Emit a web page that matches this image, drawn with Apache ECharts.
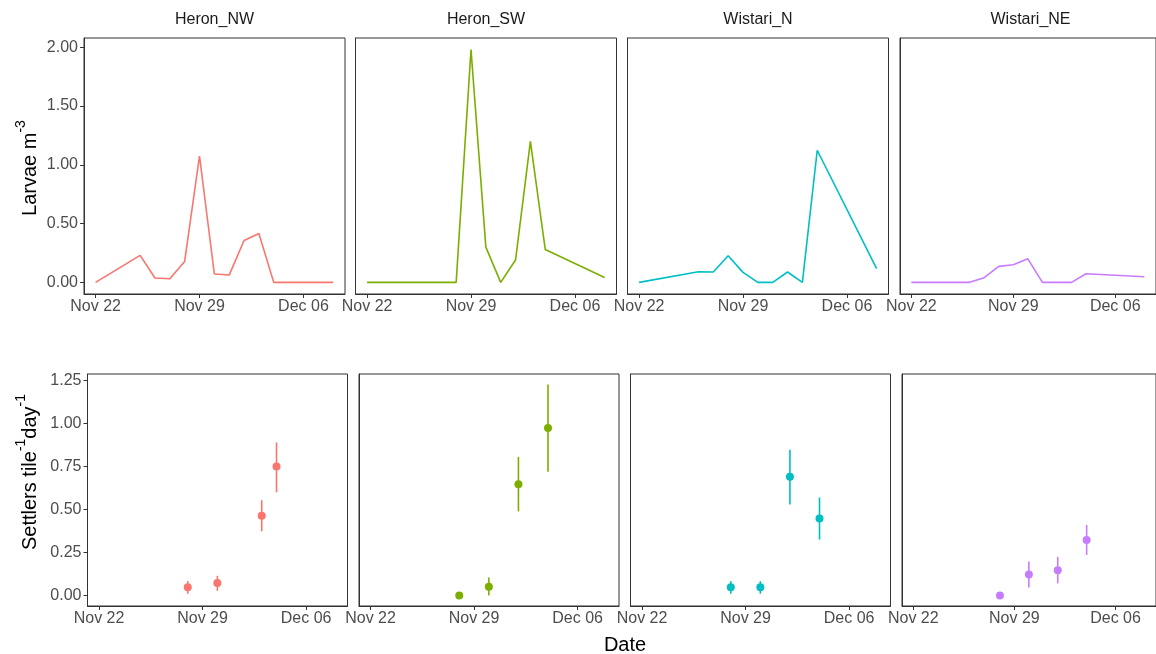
<!DOCTYPE html>
<html>
<head>
<meta charset="utf-8">
<script src="https://cdn.jsdelivr.net/npm/echarts@6/dist/echarts.min.js"></script>
<style>
html,body{margin:0;padding:0;background:#fff;}
#chart{width:1156px;height:654px;}
</style>
</head>
<body>
<div id="chart"></div>
<script>
// ---------- data ----------
const sites = ['Heron_NW', 'Heron_SW', 'Wistari_N', 'Wistari_NE'];
const siteColors = ['#F8766D', '#7CAE00', '#00BFC4', '#C77CFF'];

const xTickDates = ['11-22', '11-29', '12-06'];
const xTickLabels = ['Nov 22', 'Nov 29', 'Dec 06'];
const larvaeTicks = [0, 0.5, 1.0, 1.5, 2.0];
const settlerTicks = [0, 0.25, 0.5, 0.75, 1.0, 1.25];

// Larvae m^-3 (top row)
const heronNW_larvaeDates = ['11-22','11-25','11-26','11-27','11-28','11-29','11-30','12-01','12-02','12-03','12-04','12-08'];
const heronNW_larvae      = [0, 0.23, 0.037, 0.031, 0.178, 1.075, 0.071, 0.062, 0.356, 0.415, 0, 0];
const heronSW_larvaeDates = ['11-22','11-28','11-29','11-30','12-01','12-02','12-03','12-04','12-08'];
const heronSW_larvae      = [0, 0, 1.98, 0.30, 0, 0.19, 1.20, 0.28, 0.042];
const wistariN_larvaeDates = ['11-22','11-26','11-27','11-28','11-29','11-30','12-01','12-02','12-03','12-04','12-08'];
const wistariN_larvae      = [0, 0.09, 0.088, 0.226, 0.085, 0, 0, 0.088, 0, 1.124, 0.116];
const wistariNE_larvaeDates = ['11-22','11-26','11-27','11-28','11-29','11-30','12-01','12-02','12-03','12-04','12-08'];
const wistariNE_larvae      = [0, 0, 0.04, 0.136, 0.15, 0.20, 0, 0, 0, 0.073, 0.048];

// Settlers tile^-1 day^-1 (bottom row): mean, lower, upper
const heronNW_settleDates = ['11-28','11-30','12-03','12-04'];
const heronNW_settle      = [0.048, 0.073, 0.464, 0.75];
const heronNW_settleLo    = [0.01, 0.027, 0.373, 0.60];
const heronNW_settleHi    = [0.083, 0.114, 0.554, 0.89];
const heronSW_settleDates = ['11-28','11-30','12-02','12-04'];
const heronSW_settle      = [0, 0.05, 0.647, 0.974];
const heronSW_settleLo    = [0, 0, 0.489, 0.719];
const heronSW_settleHi    = [0, 0.104, 0.806, 1.227];
const wistariN_settleDates = ['11-28','11-30','12-02','12-04'];
const wistariN_settle      = [0.048, 0.048, 0.69, 0.448];
const wistariN_settleLo    = [0.01, 0.01, 0.529, 0.325];
const wistariN_settleHi    = [0.083, 0.083, 0.848, 0.57];
const wistariNE_settleDates = ['11-28','11-30','12-02','12-04'];
const wistariNE_settle      = [0, 0.122, 0.147, 0.323];
const wistariNE_settleLo    = [0, 0.046, 0.07, 0.236];
const wistariNE_settleHi    = [0, 0.197, 0.224, 0.41];

// ---------- helpers ----------
function dayIndex(md) {
  const p = md.split('-').map(Number);
  return (Date.UTC(2019, p[0] - 1, p[1]) - Date.UTC(2019, 10, 22)) / 86400000;
}
const xTickDays = xTickDates.map(dayIndex);
function xLabel(v) {
  const i = xTickDays.indexOf(Math.round(v));
  return i >= 0 ? xTickLabels[i] : '';
}

const larvaeSets = [
  [heronNW_larvaeDates, heronNW_larvae],
  [heronSW_larvaeDates, heronSW_larvae],
  [wistariN_larvaeDates, wistariN_larvae],
  [wistariNE_larvaeDates, wistariNE_larvae]
];
const settleSets = [
  [heronNW_settleDates, heronNW_settle, heronNW_settleLo, heronNW_settleHi],
  [heronSW_settleDates, heronSW_settle, heronSW_settleLo, heronSW_settleHi],
  [wistariN_settleDates, wistariN_settle, wistariN_settleLo, wistariN_settleHi],
  [wistariNE_settleDates, wistariNE_settle, wistariNE_settleLo, wistariNE_settleHi]
];

// ---------- layout ----------
const FONT = '"Liberation Sans", Arial, Helvetica, sans-serif';
const topLefts = [84, 355.5, 627.5, 900];
const botLefts = [87.5, 359, 630.5, 902];
const panelW = 261;
const botW = 260;
const topRow = { top: 38, height: 256 };
const botRow = { top: 374, height: 232 };
const xMin = -0.78, xMax = 16.8;

const grids = [], xAxes = [], yAxes = [], series = [];

function addPanel(idx, left, width, row, yMin, yMax, yTicks, showY) {
  grids.push({ left: left, top: row.top, width: width, height: row.height,
    show: true, borderColor: '#333', borderWidth: 1, backgroundColor: 'transparent' });
  xAxes.push({
    gridIndex: idx, type: 'value', min: xMin, max: xMax,
    axisLine: { show: true, onZero: false, lineStyle: { color: '#333', width: 1 } },
    axisTick: { show: true, length: 4, customValues: xTickDays, lineStyle: { color: '#333', width: 1 } },
    axisLabel: { show: true, customValues: xTickDays, formatter: xLabel, color: '#4D4D4D',
      fontSize: 16, fontFamily: FONT, margin: 5 },
    splitLine: { show: false }
  });
  yAxes.push({
    gridIndex: idx, type: 'value', min: yMin, max: yMax,
    axisLine: { show: true, onZero: false, lineStyle: { color: '#333', width: 1 } },
    axisTick: { show: showY, length: 4, customValues: yTicks, lineStyle: { color: '#333', width: 1 } },
    axisLabel: { show: showY, customValues: yTicks, formatter: v => v.toFixed(2), color: '#4D4D4D',
      fontSize: 16, fontFamily: FONT, margin: 6 },
    splitLine: { show: false }
  });
}

for (let i = 0; i < 4; i++) {
  addPanel(i, topLefts[i], panelW, topRow, -0.099, 2.079, larvaeTicks, i === 0);
}
for (let i = 0; i < 4; i++) {
  addPanel(4 + i, botLefts[i], botW, botRow, -0.0615, 1.2885, settlerTicks, i === 0);
}

for (let i = 0; i < 4; i++) {
  const [d, v] = larvaeSets[i];
  series.push({
    type: 'line', xAxisIndex: i, yAxisIndex: i, showSymbol: false, symbol: 'none',
    silent: true, animation: false,
    lineStyle: { color: siteColors[i], width: 1.6 },
    data: d.map((md, k) => [dayIndex(md), v[k]])
  });
}
for (let i = 0; i < 4; i++) {
  const [d, m, lo, hi] = settleSets[i];
  const col = siteColors[i];
  series.push({
    type: 'custom', xAxisIndex: 4 + i, yAxisIndex: 4 + i, silent: true, animation: false,
    data: d.map((md, k) => [dayIndex(md), lo[k], hi[k]]),
    encode: { x: 0, y: [1, 2] },
    renderItem: function (params, api) {
      const x = api.value(0);
      const p1 = api.coord([x, api.value(1)]);
      const p2 = api.coord([x, api.value(2)]);
      return { type: 'line', shape: { x1: p1[0], y1: p1[1], x2: p2[0], y2: p2[1] },
        style: { stroke: col, lineWidth: 1.6 } };
    },
    z: 2
  });
  series.push({
    type: 'scatter', xAxisIndex: 4 + i, yAxisIndex: 4 + i, silent: true, animation: false,
    symbol: 'circle', symbolSize: 8, itemStyle: { color: col, opacity: 1 },
    data: d.map((md, k) => [dayIndex(md), m[k]]),
    z: 3
  });
}

const graphics = [];
for (let i = 0; i < 4; i++) {
  graphics.push({ type: 'text', x: topLefts[i] + panelW / 2, y: 20,
    style: { text: sites[i], fill: '#1A1A1A', fontSize: 16, fontFamily: FONT,
      align: 'center', verticalAlign: 'middle' } });
}
graphics.push({ type: 'text', x: 625, y: 645,
  style: { text: 'Date', fill: '#000', fontSize: 20, fontFamily: FONT, align: 'center', verticalAlign: 'middle' } });

const richT = {
  n: { fontSize: 20, fontFamily: FONT, color: '#000', lineHeight: 26, verticalAlign: 'bottom' },
  s: { fontSize: 14, fontFamily: FONT, color: '#000', lineHeight: 14, verticalAlign: 'top' }
};
graphics.push({ type: 'text', x: 27, y: 168, rotation: Math.PI / 2,
  style: { text: '{n|Larvae m}{s|-3}', rich: richT, align: 'center', verticalAlign: 'middle' } });
graphics.push({ type: 'text', x: 27, y: 472, rotation: Math.PI / 2,
  style: { text: '{n|Settlers tile}{s|-1}{n|day}{s|-1}', rich: richT, align: 'center', verticalAlign: 'middle' } });

const chart = echarts.init(document.getElementById('chart'), null, { renderer: 'canvas' });
chart.setOption({
  backgroundColor: '#fff',
  animation: false,
  grid: grids,
  xAxis: xAxes,
  yAxis: yAxes,
  series: series,
  graphic: graphics
});
</script>
</body>
</html>
